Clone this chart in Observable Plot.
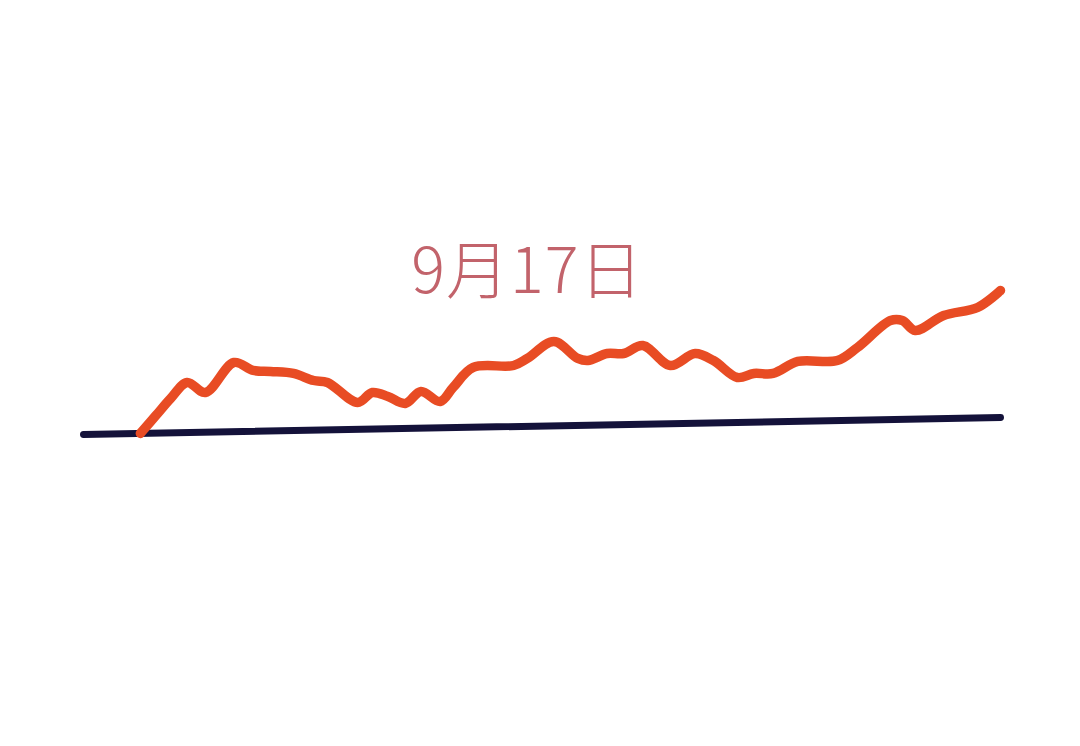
<!DOCTYPE html>
<html>
<head>
<meta charset="utf-8">
<script src="https://cdn.jsdelivr.net/npm/d3@7"></script>
<script src="https://cdn.jsdelivr.net/npm/@observablehq/plot@0.6"></script>
<style>
  html, body { margin: 0; padding: 0; background: #ffffff; }
  #chart svg { display: block; }
  #chart svg text { letter-spacing: 1px; }
</style>
</head>
<body>
<div id="chart"></div>
<script>
// Orange series (time position 0–100, value index)
const seriesX = [6.2, 7.9, 9.5, 11.3, 13.3, 16.4, 18.5, 20.4, 22.9, 25.1, 26.6, 29.9, 31.5, 33.2, 35.1, 36.8, 38.9, 40.3, 42.5, 46.9, 48.4, 51.3, 53.9, 55.0, 57.1, 58.9, 61.0, 64.0, 66.7, 68.7, 71.3, 73.1, 75.2, 77.9, 82.2, 84.4, 88.0, 89.3, 90.7, 93.8, 97.5, 100];
const seriesY = [0.7, 12.7, 24, 34.7, 28, 48, 42.7, 42, 40.7, 36, 34.7, 21.3, 28, 25.3, 20.7, 28.7, 22, 31.3, 44.7, 46, 50.7, 62, 50.7, 49.3, 54, 54, 59.3, 46, 54, 49.3, 38, 40.7, 40.7, 48.7, 49.3, 58, 76, 76, 69.3, 79.3, 84.7, 96];
// Baseline (trend) line
const baseX = [0, 100];
const baseY = [0, 11.3];
// Label
const labelText = ["9月17日"];
const labelX = [48.4];
const labelY = [108];

const series = seriesX.map((x, i) => ({x, y: seriesY[i]}));
const base = baseX.map((x, i) => ({x, y: baseY[i]}));
const labels = labelText.map((t, i) => ({t, x: labelX[i], y: labelY[i]}));

const chart = Plot.plot({
  width: 1080,
  height: 746,
  margin: 0,
  style: {background: "#ffffff"},
  x: {domain: [0, 100], range: [83, 1000], axis: null},
  y: {domain: [0, 100], range: [434, 284], axis: null},
  marks: [
    Plot.line(base, {x: "x", y: "y", stroke: "#14123a", strokeWidth: 7, strokeLinecap: "round"}),
    Plot.line(series, {x: "x", y: "y", stroke: "#e84c24", strokeWidth: 9.5, curve: "catmull-rom", strokeLinecap: "round", strokeLinejoin: "round"}),
    Plot.text(labels, {x: "x", y: "y", text: "t", fill: "#c2636b", fontSize: 63, fontWeight: 300, fontFamily: "'Noto Sans CJK SC', 'Noto Sans', sans-serif", textAnchor: "middle"})
  ]
});
document.getElementById("chart").appendChild(chart);
</script>
</body>
</html>
